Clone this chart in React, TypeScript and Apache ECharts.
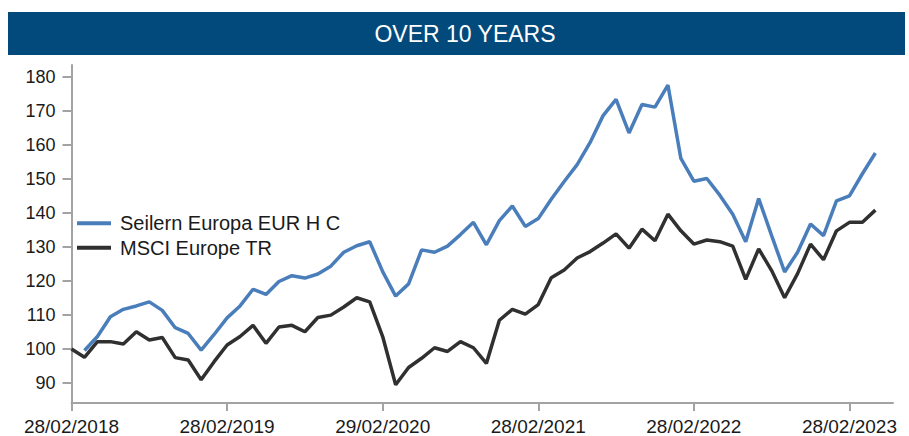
import React, { useEffect, useRef } from "react";
import * as echarts from "echarts";

const seriesNames = ["Seilern Europa EUR H C", "MSCI Europe TR"];

const xTickLabels = ["28/02/2018", "28/02/2019", "29/02/2020", "28/02/2021", "28/02/2022", "28/02/2023"];
const xTickMonths = [0, 12, 24, 36, 48, 60];
const yTickValues = [90, 100, 110, 120, 130, 140, 150, 160, 170, 180];

const seilern: (number | null)[] = [
  null, 99.6, 103.7, 109.5, 111.7, 112.7, 113.9, 111.4, 106.3, 104.6,
  99.7, 104.3, 109.2, 112.7, 117.6, 116.1, 119.9, 121.6, 120.9, 122.1,
  124.4, 128.5, 130.4, 131.6, 122.8, 115.6, 119.2, 129.2, 128.5, 130.3,
  133.7, 137.3, 130.7, 137.8, 142.1, 136.1, 138.4, 144.1, 149.3, 154.3,
  160.8, 168.7, 173.5, 163.6, 172.0, 171.2, 177.7, 156.1, 149.4, 150.2,
  145.3, 139.7, 131.6, 144.3, 133.4, 122.7, 128.5, 136.8, 133.4, 143.6,
  145.1, 151.6, 157.7,
];

const msci: number[] = [
  100.0, 97.6, 102.2, 102.2, 101.5, 105.1, 102.7, 103.4, 97.5, 96.8,
  91.0, 96.3, 101.2, 103.7, 107.0, 101.7, 106.5, 107.0, 105.1, 109.3,
  110.0, 112.4, 115.1, 113.9, 103.7, 89.5, 94.6, 97.3, 100.4, 99.3,
  102.2, 100.4, 95.8, 108.5, 111.7, 110.3, 113.1, 121.0, 123.3, 126.8,
  128.7, 131.2, 133.9, 129.7, 135.3, 131.9, 139.7, 134.8, 130.9, 132.1,
  131.6, 130.3, 120.5, 129.5, 123.1, 115.1, 122.2, 130.9, 126.3, 134.8,
  137.3, 137.3, 140.9,
];

const FONT = "'Liberation Sans', Arial, sans-serif";
const AXIS_GRAY = "#a3a3a3";

export default function App() {
  const ref = useRef<HTMLDivElement>(null);

  useEffect(() => {
    if (!ref.current) return;
    const chart = echarts.init(ref.current, null, { renderer: "svg" });
    const option: any = {
      animation: false,
      backgroundColor: "#ffffff",
      graphic: [
        {
          type: "rect",
          shape: { x: 8, y: 12, width: 897, height: 43 },
          style: { fill: "#034a7c" },
          silent: true,
        },
        {
          type: "text",
          x: 465,
          y: 33.5,
          style: {
            text: "OVER 10 YEARS",
            fill: "#ffffff",
            font: `23px ${FONT}`,
            textAlign: "center",
            textVerticalAlign: "middle",
          },
          silent: true,
        },
      ],
      legend: {
        orient: "vertical",
        left: 77,
        top: 213.3,
        padding: 0,
        itemWidth: 34,
        itemHeight: 4,
        itemGap: 4.4,
        icon: "rect",
        data: seriesNames,
        textStyle: {
          fontSize: 20,
          fontFamily: FONT,
          color: "#1a1a1a",
          padding: [0, 0, 0, 4],
          lineHeight: 20,
        },
      },
      grid: { left: 71.5, top: 65, right: 16, bottom: 31, containLabel: false },
      xAxis: {
        type: "value",
        min: 0,
        max: 63.36,
        splitLine: { show: false },
        axisLine: { show: true, lineStyle: { color: AXIS_GRAY, width: 2 } },
        axisTick: {
          show: true,
          length: 8,
          lineStyle: { color: AXIS_GRAY, width: 2 },
          customValues: xTickMonths,
        },
        axisLabel: {
          customValues: xTickMonths,
          formatter: (v: number) => {
            const k = xTickMonths.indexOf(Math.round(v));
            return k >= 0 ? xTickLabels[k] : "";
          },
          fontSize: 19,
          fontFamily: FONT,
          color: "#1a1a1a",
          margin: 14,
        },
      },
      yAxis: {
        type: "value",
        min: 84.14,
        max: 183.6,
        splitLine: { show: false },
        axisLine: { show: true, lineStyle: { color: AXIS_GRAY, width: 2 } },
        axisTick: {
          show: true,
          length: 9,
          lineStyle: { color: AXIS_GRAY, width: 2 },
          customValues: yTickValues,
        },
        axisLabel: {
          customValues: yTickValues,
          fontSize: 18,
          fontFamily: FONT,
          color: "#1a1a1a",
          margin: 16,
        },
      },
      series: [
        {
          name: seriesNames[0],
          type: "line",
          data: seilern.map((v, i) => [i, v]),
          showSymbol: false,
          symbol: "none",
          connectNulls: false,
          lineStyle: { color: "#4a7ebb", width: 3.5 },
          itemStyle: { color: "#4a7ebb" },
          z: 3,
        },
        {
          name: seriesNames[1],
          type: "line",
          data: msci.map((v, i) => [i, v]),
          showSymbol: false,
          symbol: "none",
          lineStyle: { color: "#303030", width: 3.5 },
          itemStyle: { color: "#303030" },
          z: 2,
        },
      ],
    };
    chart.setOption(option);
    return () => chart.dispose();
  }, []);

  return (
    <div
      ref={ref}
      style={{ position: "fixed", left: 0, top: 0, width: 909, height: 436 }}
    />
  );
}
